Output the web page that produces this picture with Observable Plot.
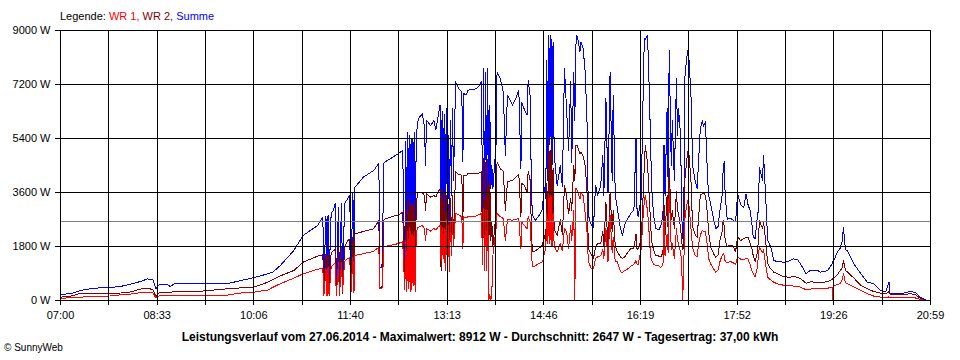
<!DOCTYPE html>
<html>
<head>
<meta charset="utf-8">
<script src="https://cdn.jsdelivr.net/npm/d3@7"></script>
<script src="https://cdn.jsdelivr.net/npm/@observablehq/plot@0.6"></script>
<style>
  html, body { margin: 0; padding: 0; background: #fff; }
  #wrap { position: relative; width: 960px; height: 360px; overflow: hidden; font-family: "Liberation Sans", Arial, sans-serif; }
  #legend { position: absolute; left: 60px; top: 11px; font-size: 11px; line-height: 11px; white-space: pre; }
  #caption { position: absolute; left: 0; width: 960px; top: 331px; text-align: center; font-size: 12px; line-height: 12px; font-weight: bold; white-space: pre; }
  #copy { position: absolute; left: 4px; top: 343px; font-size: 10px; line-height: 10px; white-space: pre; }
</style>
</head>
<body>
<div id="wrap">
  <div id="chart"></div>
  <div id="legend"></div>
  <div id="caption"></div>
  <div id="copy"></div>
</div>
<script>
// minutes after 07:00
const minutes = [0,10,19,32,48,58,65,77,84,89,92,95,103,106,109,135,161,174,186,200,205,212,225,234,248,253,254,256,257,258,259,261,263,265,266,268,269,271,272,274,277,279,280,282,283,284,292,302,307,308,310,312,318,326,330,332,333,334,335,336,337,338,339,340,341,342,343,344,345,349,351,352,353,357,360,362,364,366,367,368,369,370,371,372,373,374,375,376,377,378,379,381,384,387,388,389,391,393,400,403,406,407,408,409,410,411,412,413,414,415,416,417,420,421,424,427,429,431,436,439,442,444,445,447,450,451,453,454,455,458,461,465,466,468,469,470,471,472,473,474,475,476,477,479,482,484,486,488,490,492,493,495,496,497,498,499,501,502,504,506,508,509,512,514,516,518,521,523,524,526,528,530,532,533,535,537,540,542,544,547,550,553,555,556,557,560,562,563,564,566,567,569,570,572,574,577,579,581,582,583,585,586,587,589,590,592,594,595,596,598,599,600,601,602,604,605,606,608,609,610,612,614,615,617,619,620,622,623,624,625,627,630,632,634,636,638,639,640,641,643,646,649,651,653,656,659,661,663,665,667,668,670,672,673,674,677,678,680,682,685,688,691,697,702,707,711,714,719,723,730,733,740,744,745,746,749,752,754,755,757,759,765,772,778,784,791,796,799,800,810,820,825,829,834];

// Summe (blue), W
const summe = [200,230,333,410,433,470,520,633,720,690,400,520,540,460,550,557,560,667,757,890,950,1167,1667,2167,2500,2778,700,2800,650,2850,700,2900,3000,3233,600,3100,620,3233,600,3233,3400,3500,800,3610,700,3777,4110,4333,4567,1110,1110,4600,4722,4900,5000,1000,5300,900,5610,1200,5500,800,5400,1500,5610,900,5300,5800,6057,6222,5800,4500,6000,5833,6000,5700,6100,6500,2600,6300,3000,6200,2443,6400,3000,5500,2400,6000,3500,6400,4000,7290,7067,6950,4633,6900,6843,7010,7050,7123,7290,3000,7733,2843,7600,3500,7733,2843,6500,3733,4500,3733,5177,7623,7400,6957,4843,6843,6510,6733,7010,4400,6600,6400,6177,7343,6800,4000,2843,2677,2800,3067,3843,3400,8000,4000,8833,5177,8843,4500,8600,5177,4500,3843,4500,3800,7733,6400,5000,7290,4600,7600,6000,8500,8843,8700,8300,8623,8400,7623,5733,2843,2510,2450,3843,3500,3843,4843,3500,6733,3600,7623,4000,6843,3500,3067,2400,2177,2510,2733,2900,3010,5400,3000,2800,3400,7067,8733,8700,8843,8000,5400,3800,2843,2400,2350,2500,2843,5177,3500,6400,3800,8343,4500,6000,4000,7400,5500,6400,5500,3000,2067,2200,7400,8123,8343,8100,6843,5400,4400,4000,3733,4400,5733,6000,5800,5957,5000,4110,3510,3223,2667,2400,2443,3000,3500,4333,4623,3500,2700,2750,2667,2623,3557,3200,3100,3557,3200,3000,2500,2110,2067,2800,3000,4443,4000,4833,3500,2000,1777,1333,1300,1277,1300,1390,1350,1200,890,1000,1000,943,1000,1223,1300,1350,1610,1750,2000,2443,1700,1650,1223,890,610,560,333,300,610,223,223,310,250,120,23];

// WR 2 (dark red), W
const wr2 = [110,150,233,240,245,250,260,380,400,370,130,250,280,270,300,310,390,420,443,610,700,820,1000,1277,1480,1520,300,1540,250,1560,300,1600,1650,1700,250,1720,250,1780,240,1800,2000,2050,300,2100,280,2222,2300,2390,2667,443,443,2700,2777,2857,2943,557,3000,500,3300,600,3443,500,3200,700,3300,560,3100,3500,3610,3600,3500,3000,3550,3443,3500,3450,3610,3723,1000,3700,1500,3600,1000,3500,1300,3200,1067,3400,1800,3510,2000,4290,4200,4177,2700,4177,4150,4233,4233,4240,4290,1600,4733,1510,4600,2000,4700,1600,4000,2000,2600,1800,2900,4623,4400,4300,3000,3950,4010,4100,4200,2800,3900,3843,3623,4300,4000,2500,1623,1650,1733,1843,2200,1967,3900,2400,5290,2500,5000,2200,4400,2500,2300,2177,2700,2200,3843,3500,2900,3400,3000,4500,4000,5177,5177,5100,4900,4957,4800,4500,3500,1733,1510,1400,1800,1900,1900,2300,1800,3290,1700,3623,2300,3000,1800,1623,1450,1400,1450,1600,1733,1750,2200,1700,1733,2000,3600,4500,5177,4600,4000,2600,2000,1667,1510,1480,1450,1600,3177,2200,3500,2300,4400,2700,3000,2400,3623,3000,2900,2400,2000,1700,1800,4000,4700,4957,4900,4000,3000,2400,2200,2100,2600,3510,3557,3600,3500,3200,2800,2300,1777,1550,1443,1500,2000,2300,2667,2500,2000,1800,1850,1800,1623,2110,2000,2067,2100,2110,1900,1700,1500,1290,1600,2000,2667,2400,2600,2000,1223,1050,943,900,800,777,790,780,720,577,620,610,600,630,700,750,760,850,1000,1100,1333,1000,950,750,500,400,300,243,220,300,200,200,223,180,80,0];

// WR 1 (red), W
const wr1 = [57,110,110,143,150,190,200,260,277,260,80,150,167,160,167,167,180,250,277,350,443,560,743,890,1040,1070,150,1080,140,1100,150,1120,1200,1250,150,1270,150,1280,300,1300,1400,1420,200,1443,250,1500,1560,1640,1777,390,390,1800,1833,1900,1967,350,2000,300,2300,400,2443,300,2200,500,2300,300,2100,2400,2443,2500,2400,2000,2400,2310,2400,2350,2443,2500,1333,2450,1400,2400,1000,2700,1100,2500,967,2600,1500,2733,1800,2900,2850,2790,1733,2790,2760,2790,2800,2850,2900,1200,3067,1000,3000,1000,3000,0,200,0,300,1500,2400,2900,2800,2733,2000,2700,2677,2700,2733,1733,2600,2510,2400,2800,2600,1800,1123,1150,1233,1290,1500,1733,2900,1900,3600,1900,3500,1800,2900,1900,1750,1623,1900,1650,2400,2300,1733,2500,2000,3000,0,3733,3700,3600,3400,3600,3500,2900,2200,1290,1067,1067,1400,1450,1500,1700,1400,2400,1300,2843,1600,2100,1300,1290,957,930,1000,1050,1150,1200,1330,1200,1177,1700,2900,3300,3510,3000,2600,1500,1350,1200,1177,1150,1100,1200,2623,1500,2200,1600,3733,1700,1900,1400,2400,2000,1900,1600,1300,0,1000,2700,3200,3343,3200,2400,2000,1700,1500,1450,1800,2177,2333,2300,2300,2000,1800,1400,1223,1050,943,1000,1300,1500,1557,1500,1300,1250,1300,1250,1200,1443,1380,1350,1400,1380,1200,957,900,790,1100,1500,1777,1600,1700,1200,777,680,610,560,510,500,480,470,440,357,380,400,400,410,450,0,500,530,560,700,890,600,560,450,333,230,150,110,100,120,100,110,110,80,40,0];

const yTicks = [0, 1800, 3600, 5400, 7200, 9000];
const timeLabels = ["07:00","08:33","10:06","11:40","13:13","14:46","16:19","17:52","19:26","20:59"];
const dayLength = 839;      // 07:00 .. 20:59 in minutes
const average = 2647;       // Durchschnitt
const legendItems = [
  {label: "WR 1,", color: "#ff0000"},
  {label: "WR 2,", color: "#800000"},
  {label: "Summe", color: "#0000ff"}
];
const captionText = "Leistungsverlauf vom 27.06.2014 - Maximalwert: 8912 W - Durchschnitt: 2647 W - Tagesertrag: 37,00 kWh";

const rows = minutes.map((m, i) => ({m, wr1: wr1[i], wr2: wr2[i], summe: summe[i]}));
const gridTimes = d3.range(19).map(i => i * dayLength / 18);
const step = dayLength / 18;

const chart = Plot.plot({
  width: 960,
  height: 360,
  marginLeft: 60,
  marginRight: 30,
  marginTop: 30,
  marginBottom: 60,
  style: {fontFamily: "'Liberation Sans', Arial, sans-serif", fontSize: "11px", background: "white", color: "black"},
  x: {domain: [0, dayLength]},
  y: {domain: [0, 9000]},
  marks: [
    Plot.line(rows, {x: "m", y: "summe", stroke: "#0000ff", strokeWidth: 1, shapeRendering: "crispEdges"}),
    Plot.line(rows, {x: "m", y: "wr2", stroke: "#800000", strokeWidth: 1, shapeRendering: "crispEdges"}),
    Plot.line(rows, {x: "m", y: "wr1", stroke: "#ff0000", strokeWidth: 1, shapeRendering: "crispEdges"}),
    Plot.ruleY([average], {stroke: "#808080", strokeWidth: 1, shapeRendering: "crispEdges"}),
    Plot.ruleX(gridTimes, {stroke: "black", strokeWidth: 1, shapeRendering: "crispEdges"}),
    Plot.ruleY(yTicks, {stroke: "black", strokeWidth: 1, shapeRendering: "crispEdges"}),
    Plot.axisY({ticks: yTicks, tickFormat: d => d + " W", tickSize: 5, tickPadding: 5, label: null, shapeRendering: "crispEdges"}),
    Plot.axisX({
      ticks: gridTimes,
      tickFormat: d => { const k = Math.round(d / step); return k % 2 === 0 ? timeLabels[k / 2] : ""; },
      tickSize: 5, tickPadding: 6, label: null, shapeRendering: "crispEdges"
    })
  ]
});
document.getElementById("chart").appendChild(chart);

const legend = document.getElementById("legend");
legend.appendChild(document.createTextNode("Legende: "));
legendItems.forEach((it, i) => {
  const s = document.createElement("span");
  s.style.color = it.color;
  s.textContent = it.label + (i < legendItems.length - 1 ? " " : "");
  legend.appendChild(s);
});
document.getElementById("caption").textContent = captionText;
document.getElementById("copy").textContent = "© SunnyWeb";
</script>
</body>
</html>
